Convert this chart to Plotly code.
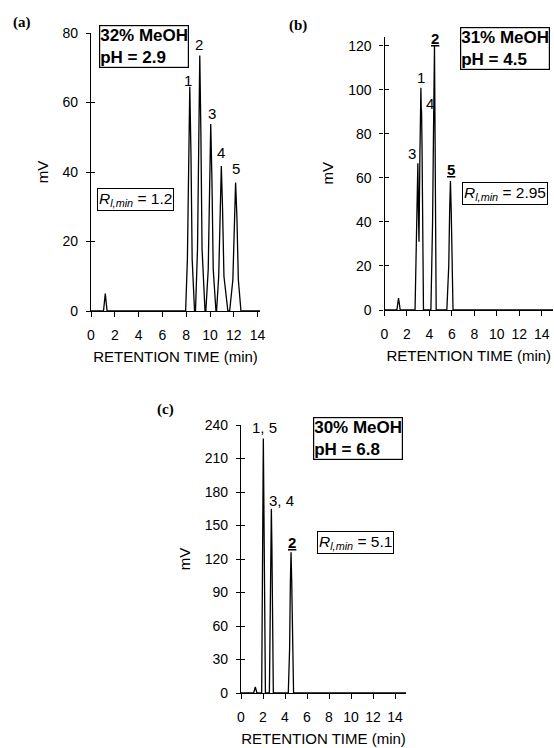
import plotly.graph_objects as go

# ---------------- data ----------------
# Panel (a): 32% MeOH, pH 2.9
time_a = [0, 1.05, 1.2, 1.35, 7.9,
          7.95, 8.1, 8.2, 8.3, 8.4, 8.5, 8.7,
          8.78, 8.95, 9.05, 9.14, 9.23, 9.33, 9.58,
          9.65, 9.85, 9.96, 10.06, 10.16, 10.27, 10.5,
          10.55, 10.73, 10.85, 10.95, 11.05, 11.17, 11.5,
          11.65, 11.92, 12.04, 12.15, 12.26, 12.38, 12.6, 14.2]
mv_a = [0, 0, 5, 0, 0,
        0, 15, 45, 64.5, 45, 15, 0,
        0, 18, 52, 73.5, 52, 18, 0,
        0, 12, 38, 53.8, 38, 12, 0,
        0, 10, 30, 41.7, 30, 10, 0,
        0, 9, 27, 37, 27, 9, 0, 0]

# Panel (b): 31% MeOH, pH 4.5
time_b = [0, 1.1, 1.25, 1.4, 2.72,
          2.83, 2.92, 2.97, 3.02, 3.07,
          3.15, 3.2, 3.24, 3.27, 3.3, 3.34, 3.4, 3.47,
          4.13, 4.28, 4.36, 4.4, 4.45, 4.5, 4.6,
          5.55, 5.72, 5.8, 5.87, 5.94, 6.0, 6.1, 15]
mv_b = [0, 0, 5.4, 0, 0,
        25, 55, 66.7, 45, 31,
        70, 95, 101, 92, 90, 75, 35, 0,
        0, 40, 80, 95, 120, 80, 0,
        0, 20, 45, 58.6, 45, 18, 0, 0]

# Panel (c): 30% MeOH, pH 6.8
time_c = [0, 1.15, 1.3, 1.45, 1.88,
          1.95, 1.99, 2.03, 2.07, 2.12, 2.22,
          2.58, 2.66, 2.71, 2.76, 2.81, 2.86, 2.94,
          4.3, 4.42, 4.49, 4.55, 4.61, 4.68, 4.78, 15]
mv_c = [0, 0, 5.4, 0, 0,
        80, 180, 228, 180, 70, 0,
        0, 55, 130, 165, 130, 55, 0,
        0, 40, 100, 126, 100, 40, 0, 0]

# peak labels: (text, time, height)
labels_a = [("1", 8.3, 64.5), ("2", 9.14, 73.5), ("3", 10.06, 53.8),
            ("4", 10.95, 41.7), ("5", 12.15, 37)]
labels_b = [("1", 3.24, 101), ("<b><u>2</u></b>", 4.45, 120), ("3", 2.97, 66.7),
            ("4", 3.3, 90), ("<b><u>5</u></b>", 5.87, 58.6)]
labels_c = [("1, 5", 2.03, 228), ("3, 4", 2.76, 165), ("<b><u>2</u></b>", 4.55, 126)]

ticks_x = [0, 2, 4, 6, 8, 10, 12, 14]
ticks_y_a = [0, 20, 40, 60, 80]
ticks_y_b = [0, 20, 40, 60, 80, 100, 120]
ticks_y_c = [0, 30, 60, 90, 120, 150, 180, 210, 240]

cond_a = "<b>32% MeOH<br>pH = 2.9</b>"
cond_b = "<b>31% MeOH<br>pH = 4.5</b>"
cond_c = "<b>30% MeOH<br>pH = 6.8</b>"
rmin_a = "<i>R</i><sub><i>l,min</i></sub> = 1.2"
rmin_b = "<i>R</i><sub><i>l,min</i></sub> = 2.95"
rmin_c = "<i>R</i><sub><i>l,min</i></sub> = 5.1"

# ---------------- figure ----------------
W, H = 554, 748
def px(x):
    return x / W
def py(y):
    return 1 - y / H

FONT = "Liberation Sans, Arial, sans-serif"
LINE = dict(color="black", width=1.3)

fig = go.Figure()
fig.add_trace(go.Scatter(x=time_a, y=mv_a, mode="lines", line=LINE, xaxis="x", yaxis="y"))
fig.add_trace(go.Scatter(x=time_b, y=mv_b, mode="lines", line=LINE, xaxis="x2", yaxis="y2"))
fig.add_trace(go.Scatter(x=time_c, y=mv_c, mode="lines", line=LINE, xaxis="x3", yaxis="y3"))
# empty traces so the inner-tick overlay axes are drawn
for ya, xa in (("y4", "x"), ("y5", "x2"), ("y6", "x3")):
    fig.add_trace(go.Scatter(x=[None], y=[None], mode="lines", xaxis=xa, yaxis=ya,
                             hoverinfo="skip", showlegend=False))

def xaxis_cfg(dom, rng, anchor):
    return dict(domain=dom, range=rng, anchor=anchor, tickvals=ticks_x,
                automargin=False,
                ticks="outside", ticklen=5, tickwidth=1.2, tickcolor="black",
                showline=True, linecolor="black", linewidth=1.3,
                showgrid=False, zeroline=False,
                tickfont=dict(family=FONT, size=14, color="black"),
                ticklabelstandoff=6,
                title=dict(text="RETENTION TIME (min)", standoff=9,
                           font=dict(family=FONT, size=15, color="black")))

def yaxis_cfg(dom, rng, anchor, tv):
    return dict(domain=dom, range=rng, anchor=anchor, tickvals=tv,
                automargin=False,
                ticks="outside", ticklen=4, tickwidth=1.2, tickcolor="black",
                showline=True, linecolor="black", linewidth=1.3,
                showgrid=False, zeroline=False,
                tickfont=dict(family=FONT, size=14, color="black"),
                ticklabelstandoff=5,
                title=dict(text="mV", standoff=10,
                           font=dict(family=FONT, size=15, color="black")))

def yover_cfg(over, rng, anchor, tv):
    return dict(overlaying=over, range=rng, anchor=anchor, tickvals=tv,
                automargin=False,
                ticks="inside", ticklen=4, tickwidth=1.2, tickcolor="black",
                showline=False, showgrid=False, zeroline=False,
                showticklabels=False)

fig.update_layout(
    width=W, height=H, margin=dict(l=0, r=0, t=0, b=0, autoexpand=False),
    paper_bgcolor="white", plot_bgcolor="rgba(0,0,0,0)", showlegend=False,
    font=dict(family=FONT, color="black"),
    xaxis=xaxis_cfg([px(91), px(260)], [0, 14.2], "y"),
    yaxis=yaxis_cfg([py(311), py(33)], [0, 80], "x", ticks_y_a),
    xaxis2=xaxis_cfg([px(384.5), px(553)], [0, 15], "y2"),
    yaxis2=yaxis_cfg([py(310), py(36.7)], [0, 124.2], "x2", ticks_y_b),
    xaxis3=xaxis_cfg([px(241), px(406)], [0, 15], "y3"),
    yaxis3=yaxis_cfg([py(693), py(425)], [0, 240], "x3", ticks_y_c),
    yaxis4=yover_cfg("y", [0, 80], "x", ticks_y_a),
    yaxis5=yover_cfg("y2", [0, 124.2], "x2", ticks_y_b),
    yaxis6=yover_cfg("y3", [0, 240], "x3", ticks_y_c),
)

ann = []
# panel letters
for txt, x, y in (("(a)", 22, 22), ("(b)", 298, 25), ("(c)", 165, 409)):
    ann.append(dict(text="<b>%s</b>" % txt, x=px(x), y=py(y), xref="paper", yref="paper",
                    showarrow=False, xanchor="center", yanchor="middle",
                    font=dict(family="Liberation Serif, Times New Roman, serif", size=15)))

# condition boxes
for txt, x, y in ((cond_a, 99, 25), (cond_b, 460, 27), (cond_c, 313, 417)):
    ann.append(dict(text=txt, x=px(x), y=py(y), xref="paper", yref="paper",
                    showarrow=False, xanchor="left", yanchor="top", align="left",
                    bordercolor="black", borderwidth=1.2, borderpad=0, bgcolor="white",
                    font=dict(family=FONT, size=17)))
for txt, x, y in ((rmin_a, 97, 188), (rmin_b, 462, 182), (rmin_c, 317, 531)):
    ann.append(dict(text=txt, x=px(x), y=py(y), xref="paper", yref="paper",
                    showarrow=False, xanchor="left", yanchor="top", align="left",
                    bordercolor="black", borderwidth=1, borderpad=1, bgcolor="white",
                    font=dict(family=FONT, size=15.5)))

# peak labels (shifts are styling offsets in pixels)
shifts_a = [(-2, 6), (-1, 11), (1, 11), (0, 14), (0, 14)]
shifts_b = [(0, 10), (1, 7), (-6, 10), (8, 8), (1, 12)]
shifts_c = [(1, 11), (10, 8), (1, 10)]
for (xa, ya), labels, shifts in ((("x", "y"), labels_a, shifts_a),
                                 (("x2", "y2"), labels_b, shifts_b),
                                 (("x3", "y3"), labels_c, shifts_c)):
    for (txt, t, h), (dx, dy) in zip(labels, shifts):
        ann.append(dict(text=txt, x=t, y=h, xref=xa, yref=ya, showarrow=False,
                        xanchor="center", yanchor="middle", xshift=dx, yshift=dy,
                        font=dict(family=FONT, size=15)))

fig.update_layout(annotations=ann)
fig.write_html("out.html", config={"displayModeBar": False},
               post_script="document.body.style.margin='0';document.body.style.overflow='hidden';")
